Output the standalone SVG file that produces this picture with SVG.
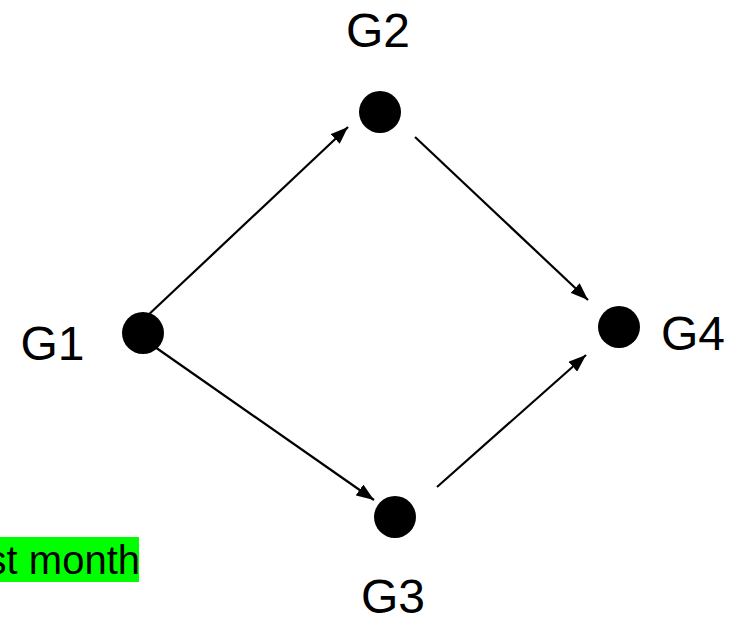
<svg xmlns="http://www.w3.org/2000/svg" width="730" height="617" viewBox="0 0 730 617">
<style>
.lbl{font-family:"Liberation Sans",Arial,sans-serif;font-size:48px;fill:#000}
.node{fill:#000}
.edge{stroke:#000;stroke-width:2.2;fill:none;marker-end:url(#ah)}
.note{font-family:"Liberation Sans",Arial,sans-serif;font-size:40px;fill:#000}
</style>
<defs>
<marker id="ah" markerWidth="8" markerHeight="6" refX="8" refY="3" orient="auto" markerUnits="strokeWidth">
<path d="M0,0 L8,3 L0,6 Z" fill="#000"/>
</marker>
</defs>
<rect width="730" height="617" fill="#fff"/>
<g id="connectors">
<line class="edge" x1="145" y1="318" x2="348" y2="127"/>
<line class="edge" x1="415" y1="137" x2="588" y2="300"/>
<line class="edge" x1="155" y1="347" x2="374" y2="500"/>
<line class="edge" x1="437" y1="487" x2="586" y2="355"/>
</g>
<g id="G1"><circle class="node" cx="143" cy="333" r="21"/><text class="lbl" x="20.5" y="360">G1</text></g>
<g id="G2"><circle class="node" cx="380" cy="112" r="21"/><text class="lbl" x="378" y="47" text-anchor="middle">G2</text></g>
<g id="G3"><circle class="node" cx="395" cy="517" r="21"/><text class="lbl" x="393" y="613" text-anchor="middle">G3</text></g>
<g id="G4"><circle class="node" cx="619" cy="327" r="21"/><text class="lbl" x="661" y="350">G4</text></g>
<g id="note"><rect x="0" y="537" width="139" height="45" fill="#00ff00"/><text class="note" x="140" y="574" text-anchor="end">st month</text></g>
</svg>
